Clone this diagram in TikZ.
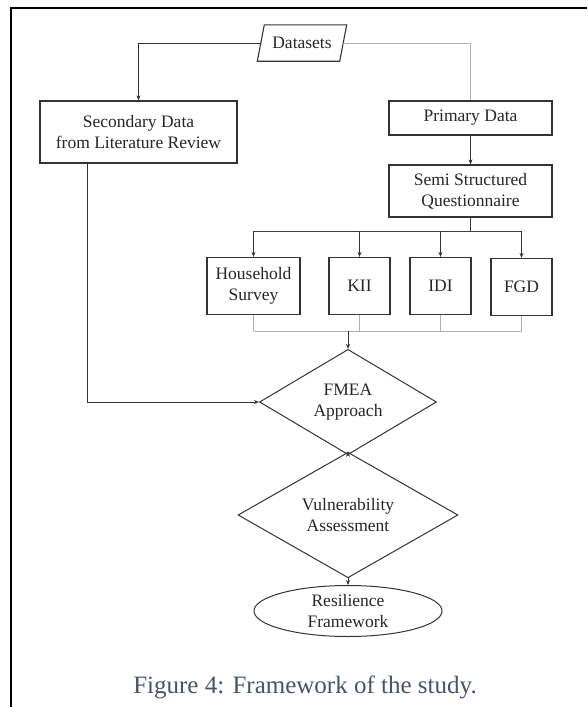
\documentclass[tikz,border=0pt]{standalone}
\usepackage{fontspec}
\setmainfont{Liberation Serif}
\usetikzlibrary{shapes.geometric,arrows.meta,calc}
\definecolor{capcol}{HTML}{44546A}
\newcommand\nodefont{\fontsize{17.5}{21}\selectfont}
\begin{document}
\begin{tikzpicture}[x=1pt,y=-1pt,
  box/.style={draw=black!80, line width=1.2pt, align=center, inner sep=0pt, font=\nodefont, text=black!85},
  dia/.style={diamond, draw=black!80, line width=1pt, align=center, inner sep=0pt, font=\nodefont, text=black!85},
  oval/.style={ellipse, draw=black!80, line width=1pt, align=center, inner sep=0pt, font=\nodefont, text=black!85},
  arr/.style={-{Stealth[length=5pt,width=4pt]}, line width=0.9pt, draw=black!80},
  dline/.style={line width=0.9pt, draw=black!75},
  gline/.style={line width=0.9pt, draw=black!30}]
\useasboundingbox (0,0) rectangle (587,707);
% frame
\draw[line width=1.8pt, line join=miter] (11,707) -- (11,8.3) -- (587,8.3);
% nodes
\node[font=\nodefont, text=black!85, minimum width=82pt, minimum height=36pt, inner sep=0pt] (ds) at (302,43) {Datasets};
\draw[draw=black!80, line width=1.1pt]
  ($(ds.south west)+(-3.5,0)$) -- ($(ds.north west)+(3.5,0)$) --
  ($(ds.north east)+(3.5,0)$) -- ($(ds.south east)+(-3.5,0)$) -- cycle;
\node[box, minimum width=197pt, minimum height=62pt] (sec) at (138.5,132) {Secondary Data\\from Literature Review};
\node[box, minimum width=163pt, minimum height=34pt] (pri) at (470.5,118) {Primary Data};
\node[box, minimum width=163pt, minimum height=52pt] (semi) at (470.5,191) {Semi Structured\\Questionnaire};
\node[box, minimum width=93pt, minimum height=57pt] (hh) at (253.5,286) {Household\\Survey};
\node[box, minimum width=61pt, minimum height=57pt] (kii) at (359.5,286) {KII};
\node[box, minimum width=61pt, minimum height=57pt] (idi) at (440.5,286) {IDI};
\node[box, minimum width=61pt, minimum height=57pt] (fgd) at (521.5,287) {FGD};
\node[dia, minimum width=177pt, minimum height=89pt] (fmea) at (348,402) {FMEA\\Approach};
\node[dia, minimum width=220pt, minimum height=85pt] (vul) at (348,515) {Vulnerability\\Assessment};
\node[oval, minimum width=188pt, minimum height=51pt] (res) at (348,611) {Resilience\\Framework};
\node[anchor=base, text=capcol, font=\fontsize{25}{30}\selectfont] (cap) at (305,693) {Figure 4: Framework of the study.};
% connectors
\coordinate (bus1) at (0,231);
\coordinate (bus2) at (0,331);
\coordinate (sdown) at (87,0);
\draw[arr] (ds.west) -| (sec.north);
\draw[gline] (ds.east) -| (pri.north);
\draw[arr] (pri) -- (semi);
\draw[dline] (semi.south) -- (semi.south |- bus1);
\draw[dline] (hh.north |- bus1) -- (fgd.north |- bus1);
\draw[arr] (hh.north |- bus1) -- (hh.north);
\draw[arr] (kii.north |- bus1) -- (kii.north);
\draw[arr] (idi.north |- bus1) -- (idi.north);
\draw[arr] (fgd.north |- bus1) -- (fgd.north);
\draw[gline] (hh.south) -- (hh.south |- bus2);
\draw[gline] (kii.south) -- (kii.south |- bus2);
\draw[gline] (idi.south) -- (idi.south |- bus2);
\draw[gline] (fgd.south) -- (fgd.south |- bus2);
\draw[gline] (hh.south |- bus2) -- (fgd.south |- bus2);
\draw[arr] (fmea.north |- bus2) -- (fmea.north);
\draw[arr] (sec.south -| sdown) |- (fmea.west);
\draw[arr] (fmea.south) -- (vul.north);
\draw[arr] (vul.south) -- (res.north);
\end{tikzpicture}
\end{document}
